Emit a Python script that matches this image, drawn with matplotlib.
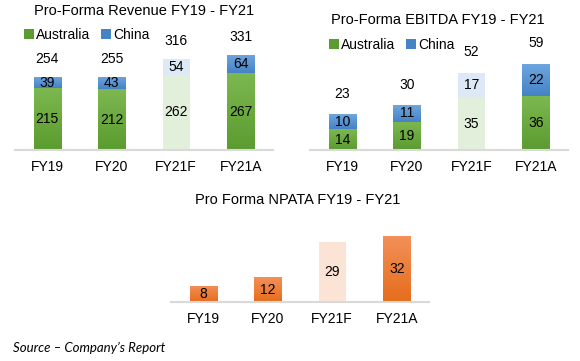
import numpy as np
import matplotlib.pyplot as plt
from matplotlib.colors import LinearSegmentedColormap, to_rgb
from matplotlib.patches import Patch

plt.rcParams['font.family'] = ['Liberation Sans', 'DejaVu Sans']

years = ['FY19', 'FY20', 'FY21F', 'FY21A']

rev_aus = [215, 212, 262, 267]
rev_chn = [39, 43, 54, 64]
rev_tot = [254, 255, 316, 331]

ebitda_aus = [14, 19, 35, 36]
ebitda_chn = [10, 11, 17, 22]
ebitda_tot = [23, 30, 52, 59]

npata = [8, 12, 29, 32]

W, H = 580, 361
FS = 10

# gradient colours (top, bottom) and the pale forecast colour
GREEN = ('#7cb84f', '#5b9b30')
BLUE = ('#6ea6de', '#4683c6')
ORANGE = ('#f39058', '#e66d1c')
PALE = {'g': '#e2efda', 'b': '#dde9f6', 'o': '#fbe4d6'}


def px_axes(left, right, base, top):
    # axes from pixel coordinates (y measured from the top)
    ax = plt.gcf().add_axes([left / W, (H - base) / H, (right - left) / W, (base - top) / H])
    for s in ['left', 'right', 'top']:
        ax.spines[s].set_visible(False)
    ax.spines['bottom'].set_color('#d9d9d9')
    ax.spines['bottom'].set_linewidth(1.5)
    ax.set_yticks([])
    ax.tick_params(axis='x', length=0, pad=7, labelsize=FS)
    ax.set_xlim(-0.5, 3.5)
    return ax


def gradient_bars(ax, bars, cols, pale):
    for i, b in enumerate(bars):
        if i == 2:
            b.set_facecolor(pale)
            continue
        b.set_facecolor('none')
        x0, y0 = b.get_x(), b.get_y()
        w, h = b.get_width(), b.get_height()
        cmap = LinearSegmentedColormap.from_list('g', [to_rgb(cols[1]), to_rgb(cols[0])])
        grad = np.linspace(0, 1, 64).reshape(-1, 1)
        im = ax.imshow(grad, cmap=cmap, origin='lower', aspect='auto',
                       extent=(x0, x0 + w, y0, y0 + h), zorder=2)
        im.set_clip_path(b)
    ax.set_xlim(-0.5, 3.5)


fig = plt.figure(figsize=(W / 100, H / 100), dpi=100)

x = np.arange(len(years))
bw = 0.42

# --- Revenue
ax1 = px_axes(15, 273, 150, 20)
ax1.set_ylim(0, 130 / 0.287)
b1 = ax1.bar(x, rev_aus, bw, zorder=2)
b2 = ax1.bar(x, rev_chn, bw, bottom=rev_aus, zorder=2)
gradient_bars(ax1, b1, GREEN, PALE['g'])
gradient_bars(ax1, b2, BLUE, PALE['b'])
ax1.set_xticks(x, years)
for i in range(4):
    ax1.text(x[i], rev_aus[i] / 2, str(rev_aus[i]), ha='center', va='center', fontsize=FS, zorder=3)
    ax1.text(x[i], rev_aus[i] + rev_chn[i] / 2, str(rev_chn[i]), ha='center', va='center', fontsize=FS, zorder=3)
    ax1.annotate(str(rev_tot[i]), (x[i], rev_aus[i] + rev_chn[i]), xytext=(0, 13),
                 textcoords='offset points', ha='center', va='center', fontsize=FS)
fig.text(144 / W, 1 - 11 / H, 'Pro-Forma Revenue FY19 - FY21', ha='center', va='center', fontsize=10.5)

# --- EBITDA
ax2 = px_axes(310, 568, 150, 20)
ax2.set_ylim(0, 130 / 1.49)
c1 = ax2.bar(x, ebitda_aus, bw, zorder=2)
c2 = ax2.bar(x, ebitda_chn, bw, bottom=ebitda_aus, zorder=2)
gradient_bars(ax2, c1, GREEN, PALE['g'])
gradient_bars(ax2, c2, BLUE, PALE['b'])
ax2.set_xticks(x, years)
for i in range(4):
    ax2.text(x[i], ebitda_aus[i] / 2, str(ebitda_aus[i]), ha='center', va='center', fontsize=FS, zorder=3)
    ax2.text(x[i], ebitda_aus[i] + ebitda_chn[i] / 2, str(ebitda_chn[i]), ha='center', va='center',
             fontsize=FS, zorder=3)
    ax2.annotate(str(ebitda_tot[i]), (x[i], ebitda_aus[i] + ebitda_chn[i]), xytext=(0, 14.5),
                 textcoords='offset points', ha='center', va='center', fontsize=FS)
fig.text(438 / W, 1 - 20 / H, 'Pro-Forma EBITDA FY19 - FY21', ha='center', va='center', fontsize=10.5)

for ax, lx, ly in [(ax1, 24, 35), (ax2, 329, 45)]:
    handles = [Patch(facecolor=GREEN[1]), Patch(facecolor=BLUE[1])]
    ax.legend(handles, ['Australia', 'China'], ncol=2, frameon=False, fontsize=FS,
              handlelength=0.7, handleheight=0.7, handletextpad=0.15, columnspacing=0.8,
              loc='center left', bbox_to_anchor=(lx / W, 1 - ly / H),
              bbox_transform=fig.transFigure, borderpad=0, borderaxespad=0)

# --- NPATA
ax3 = px_axes(171, 429, 302, 215)
ax3.set_ylim(0, 87 / 2.06)
d1 = ax3.bar(x, npata, bw, zorder=2)
gradient_bars(ax3, d1, ORANGE, PALE['o'])
ax3.set_xticks(x, years)
for i in range(4):
    ax3.text(x[i], npata[i] / 2, str(npata[i]), ha='center', va='center', fontsize=FS, zorder=3)
fig.text(298 / W, 1 - 200 / H, 'Pro Forma NPATA FY19 - FY21', ha='center', va='center', fontsize=10.5)

fig.text(13 / W, 1 - 348 / H, 'Source \u2013 Company\u2019s Report', ha='left', va='center',
         fontsize=9.5, style='italic', family=['Lato', 'DejaVu Sans'])

fig.savefig('out.png', dpi=100)
